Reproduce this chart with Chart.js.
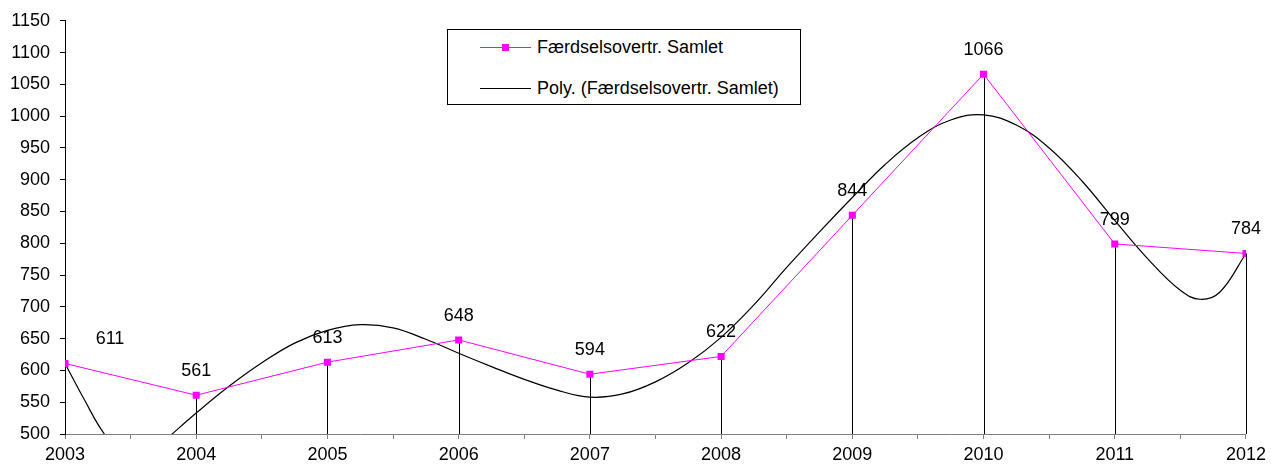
<!DOCTYPE html>
<html lang="da">
<head>
    <meta charset="UTF-8">
    <title>Færdselsovertrædelser</title>
    <script src="https://cdn.jsdelivr.net/npm/chart.js@4.4.0/dist/chart.umd.min.js"></script>
    <style>
        body { margin: 0; background: #fff; font-family: "Liberation Sans", Arial, sans-serif; }
        .wrap { position: relative; width: 1271px; height: 465px; }
        .legend-box {
            position: absolute;
            left: 447px;
            top: 29px;
            width: 352px;
            height: 74px;
            border: 1px solid #000;
            background: #fff;
            font-size: 18px;
            color: #000;
        }
        .legend-row {
            position: absolute;
            left: 32px;
            height: 20px;
            display: flex;
            align-items: center;
            white-space: nowrap;
        }
        .legend-row .sample {
            position: relative;
            width: 51px;
            height: 1px;
            margin-right: 6px;
        }
        .legend-row .sample i {
            position: absolute;
            left: 22px;
            top: -3px;
            width: 7px;
            height: 7px;
        }
    </style>
</head>
<body>
    <div class="wrap">
        <canvas id="chart"></canvas>
        <div class="legend-box" id="legend"></div>
    </div>

    <script>
        // values
        const years = [2003, 2004, 2005, 2006, 2007, 2008, 2009, 2010, 2011, 2012];
        const counts = [611, 561, 613, 648, 594, 622, 844, 1066, 799, 784];

        // polynomial trendline
        const trendX = [2003, 2003.15, 2003.3, 2003.45, 2003.6, 2003.75, 2004, 2004.25, 2004.5,
                        2004.75, 2005, 2005.25, 2005.5, 2005.75, 2006, 2006.25, 2006.5, 2006.75, 2007,
                        2007.25, 2007.5, 2007.75, 2008, 2008.25, 2008.5, 2008.75, 2009, 2009.25, 2009.5,
                        2009.75, 2010, 2010.25, 2010.5, 2010.75, 2011, 2011.25, 2011.5, 2011.65, 2011.8, 2012];
        const trendY = [611, 553, 500, 468, 462, 488, 533, 575, 612,
                        643, 663, 672, 667, 649, 627, 606, 586, 569, 558,
                        563, 582, 612, 652, 703, 762, 818, 872, 924, 966,
                        994, 1002, 986, 950, 898, 836, 776, 726, 712, 723, 784];

        const yTicks = { min: 500, max: 1150, step: 50 };
        const seriesNames = ['Færdselsovertr. Samlet', 'Poly. (Færdselsovertr. Samlet)'];
        const magenta = '#FF00FF';
        const fontFamily = '"Liberation Sans", Arial, sans-serif';

        // vertical drop lines from each point down to the x axis
        const dropLines = {
            id: 'dropLines',
            beforeDatasetsDraw(chart) {
                const { ctx, chartArea, scales } = chart;
                ctx.save();
                ctx.strokeStyle = '#000';
                ctx.lineWidth = 1;
                years.forEach((yr, i) => {
                    const x = Math.round(scales.x.getPixelForValue(yr)) + 0.5;
                    ctx.beginPath();
                    ctx.moveTo(x, scales.y.getPixelForValue(counts[i]));
                    ctx.lineTo(x, chartArea.bottom);
                    ctx.stroke();
                });
                ctx.restore();
            }
        };

        // value labels above the points
        const valueLabels = {
            id: 'valueLabels',
            afterDatasetsDraw(chart) {
                const { ctx, scales } = chart;
                ctx.save();
                ctx.fillStyle = '#000';
                ctx.font = '18px ' + fontFamily;
                ctx.textAlign = 'center';
                ctx.textBaseline = 'middle';
                years.forEach((yr, i) => {
                    const dx = i === 0 ? 45 : 0; // first label sits off the axis
                    const x = scales.x.getPixelForValue(yr) + dx;
                    const y = scales.y.getPixelForValue(counts[i]) - 24;
                    ctx.fillText(String(counts[i]), x, y);
                });
                ctx.restore();
            }
        };

        const ctx = document.getElementById('chart').getContext('2d');
        const chart = new Chart(ctx, {
            type: 'line',
            data: {
                datasets: [
                    {
                        label: seriesNames[0],
                        data: years.map((yr, i) => ({ x: yr, y: counts[i] })),
                        borderColor: magenta,
                        backgroundColor: magenta,
                        borderWidth: 1,
                        pointStyle: 'rect',
                        pointRadius: 5,
                        pointBorderWidth: 0,
                        tension: 0,
                        order: 1
                    },
                    {
                        label: seriesNames[1],
                        data: trendX.map((x, i) => ({ x: x, y: trendY[i] })),
                        borderColor: '#000',
                        borderWidth: 1.2,
                        pointRadius: 0,
                        tension: 0.4,
                        order: 2
                    }
                ]
            },
            options: {
                responsive: true,
                maintainAspectRatio: false,
                animation: false,
                events: [],
                layout: { padding: { top: 19, right: 24, bottom: 0, left: 0 } },
                plugins: {
                    legend: { display: false },
                    tooltip: { enabled: false }
                },
                scales: {
                    x: {
                        type: 'linear',
                        min: years[0],
                        max: years[years.length - 1],
                        grid: { drawOnChartArea: false, drawTicks: true, tickLength: 5, color: '#808080' },
                        border: { color: '#808080', width: 1 },
                        ticks: {
                            stepSize: 0.5,
                            autoSkip: false,
                            maxRotation: 0,
                            color: '#000',
                            padding: 5,
                            font: { family: fontFamily, size: 18 },
                            callback: v => Number.isInteger(v) ? String(v) : ''
                        },
                        afterFit: s => { s.height = 31; }
                    },
                    y: {
                        min: yTicks.min,
                        max: yTicks.max,
                        grid: { drawOnChartArea: false, drawTicks: true, tickLength: 5, color: '#000' },
                        border: { color: '#000', width: 1 },
                        ticks: {
                            stepSize: yTicks.step,
                            color: '#000',
                            padding: 10,
                            font: { family: fontFamily, size: 18 },
                            callback: v => String(v)
                        },
                        afterFit: s => { s.width = 65; }
                    }
                }
            },
            plugins: [dropLines, valueLabels]
        });

        // legend box built from the dataset names
        const legend = document.getElementById('legend');
        const rowTops = [7, 48];
        seriesNames.forEach((name, i) => {
            const row = document.createElement('div');
            row.className = 'legend-row';
            row.style.top = rowTops[i] + 'px';
            const sample = document.createElement('span');
            sample.className = 'sample';
            sample.style.background = i === 0 ? magenta : '#000';
            if (i === 0) {
                const m = document.createElement('i');
                m.style.background = magenta;
                sample.appendChild(m);
            }
            row.appendChild(sample);
            row.appendChild(document.createTextNode(name));
            legend.appendChild(row);
        });
    </script>
</body>
</html>
